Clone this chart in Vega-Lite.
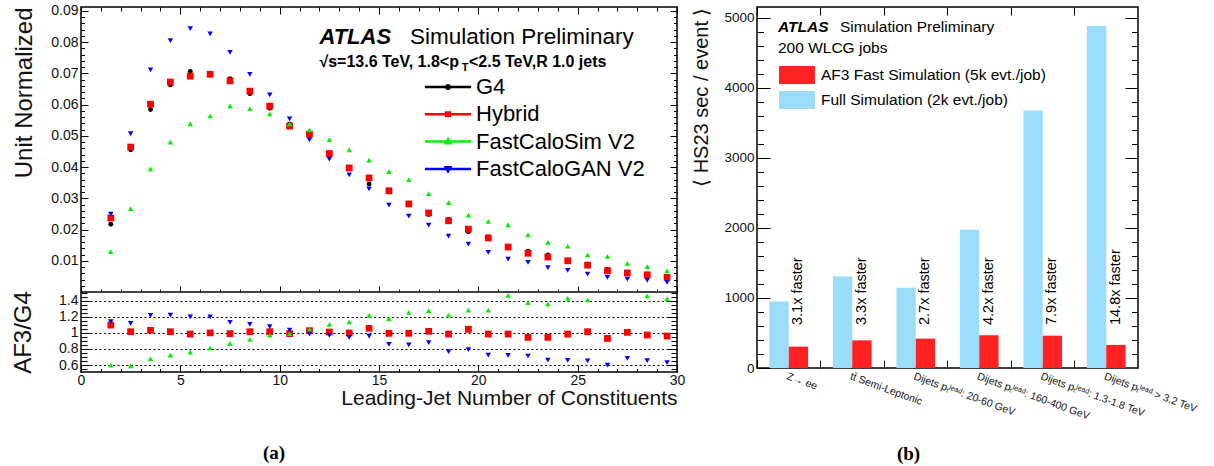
{
"$schema": "https://vega.github.io/schema/vega-lite/v6.json",
"background": "white",
"padding": {"left": 10, "top": 3, "right": 2, "bottom": 2},
"spacing": 5,
"resolve": {"scale": {"color": "independent", "shape": "independent", "size": "independent", "fill": "independent", "stroke": "independent"}},
"config": {
  "font": "Liberation Sans",
  "view": {"stroke": "black", "strokeWidth": 1.5},
  "axis": {"domain": false, "grid": false, "tickColor": "black", "tickWidth": 1, "labelColor": "#111", "titleColor": "#111", "labelFont": "Liberation Sans", "titleFont": "Liberation Sans", "titleFontWeight": "normal", "labelFlush": false, "labelOverlap": false},
  "legend": {"labelFont": "Liberation Sans"}
},
"datasets": {
  "main": [
    {"n":1.5,"s":"G4","v":0.0217},{"n":2.5,"s":"G4","v":0.0455},{"n":3.5,"s":"G4","v":0.0584},{"n":4.5,"s":"G4","v":0.0663},{"n":5.5,"s":"G4","v":0.0706},{"n":6.5,"s":"G4","v":0.0697},{"n":7.5,"s":"G4","v":0.0683},{"n":8.5,"s":"G4","v":0.0635},{"n":9.5,"s":"G4","v":0.0588},{"n":10.5,"s":"G4","v":0.0538},{"n":11.5,"s":"G4","v":0.0500},{"n":12.5,"s":"G4","v":0.0440},{"n":13.5,"s":"G4","v":0.0399},{"n":14.5,"s":"G4","v":0.0346},{"n":15.5,"s":"G4","v":0.0326},{"n":16.5,"s":"G4","v":0.0284},{"n":17.5,"s":"G4","v":0.0248},{"n":18.5,"s":"G4","v":0.0232},{"n":19.5,"s":"G4","v":0.0193},{"n":20.5,"s":"G4","v":0.0176},{"n":21.5,"s":"G4","v":0.0146},{"n":22.5,"s":"G4","v":0.0131},{"n":23.5,"s":"G4","v":0.0119},{"n":24.5,"s":"G4","v":0.0102},{"n":25.5,"s":"G4","v":0.0085},{"n":26.5,"s":"G4","v":0.0073},{"n":27.5,"s":"G4","v":0.0061},{"n":28.5,"s":"G4","v":0.0057},{"n":29.5,"s":"G4","v":0.0049},
    {"n":1.5,"s":"Hybrid","v":0.0237},{"n":2.5,"s":"Hybrid","v":0.0464},{"n":3.5,"s":"Hybrid","v":0.0601},{"n":4.5,"s":"Hybrid","v":0.0672},{"n":5.5,"s":"Hybrid","v":0.0691},{"n":6.5,"s":"Hybrid","v":0.0697},{"n":7.5,"s":"Hybrid","v":0.0676},{"n":8.5,"s":"Hybrid","v":0.0643},{"n":9.5,"s":"Hybrid","v":0.0595},{"n":10.5,"s":"Hybrid","v":0.0531},{"n":11.5,"s":"Hybrid","v":0.0505},{"n":12.5,"s":"Hybrid","v":0.0443},{"n":13.5,"s":"Hybrid","v":0.0397},{"n":14.5,"s":"Hybrid","v":0.0365},{"n":15.5,"s":"Hybrid","v":0.0324},{"n":16.5,"s":"Hybrid","v":0.0282},{"n":17.5,"s":"Hybrid","v":0.0253},{"n":18.5,"s":"Hybrid","v":0.0228},{"n":19.5,"s":"Hybrid","v":0.0201},{"n":20.5,"s":"Hybrid","v":0.0173},{"n":21.5,"s":"Hybrid","v":0.0144},{"n":22.5,"s":"Hybrid","v":0.0124},{"n":23.5,"s":"Hybrid","v":0.0112},{"n":24.5,"s":"Hybrid","v":0.0100},{"n":25.5,"s":"Hybrid","v":0.0086},{"n":26.5,"s":"Hybrid","v":0.0068},{"n":27.5,"s":"Hybrid","v":0.0061},{"n":28.5,"s":"Hybrid","v":0.0055},{"n":29.5,"s":"Hybrid","v":0.0047},
    {"n":1.5,"s":"FastCaloSim V2","v":0.0129},{"n":2.5,"s":"FastCaloSim V2","v":0.0267},{"n":3.5,"s":"FastCaloSim V2","v":0.0394},{"n":4.5,"s":"FastCaloSim V2","v":0.0480},{"n":5.5,"s":"FastCaloSim V2","v":0.0538},{"n":6.5,"s":"FastCaloSim V2","v":0.0564},{"n":7.5,"s":"FastCaloSim V2","v":0.0596},{"n":8.5,"s":"FastCaloSim V2","v":0.0587},{"n":9.5,"s":"FastCaloSim V2","v":0.0570},{"n":10.5,"s":"FastCaloSim V2","v":0.0538},{"n":11.5,"s":"FastCaloSim V2","v":0.0519},{"n":12.5,"s":"FastCaloSim V2","v":0.0488},{"n":13.5,"s":"FastCaloSim V2","v":0.0455},{"n":14.5,"s":"FastCaloSim V2","v":0.0422},{"n":15.5,"s":"FastCaloSim V2","v":0.0385},{"n":16.5,"s":"FastCaloSim V2","v":0.0360},{"n":17.5,"s":"FastCaloSim V2","v":0.0315},{"n":18.5,"s":"FastCaloSim V2","v":0.0286},{"n":19.5,"s":"FastCaloSim V2","v":0.0246},{"n":20.5,"s":"FastCaloSim V2","v":0.0226},{"n":21.5,"s":"FastCaloSim V2","v":0.0215},{"n":22.5,"s":"FastCaloSim V2","v":0.0183},{"n":23.5,"s":"FastCaloSim V2","v":0.0159},{"n":24.5,"s":"FastCaloSim V2","v":0.0147},{"n":25.5,"s":"FastCaloSim V2","v":0.0119},{"n":26.5,"s":"FastCaloSim V2","v":0.0114},{"n":27.5,"s":"FastCaloSim V2","v":0.0092},{"n":28.5,"s":"FastCaloSim V2","v":0.0081},{"n":29.5,"s":"FastCaloSim V2","v":0.0068},
    {"n":1.5,"s":"FastCaloGAN V2","v":0.0249},{"n":2.5,"s":"FastCaloGAN V2","v":0.0507},{"n":3.5,"s":"FastCaloGAN V2","v":0.0711},{"n":4.5,"s":"FastCaloGAN V2","v":0.0805},{"n":5.5,"s":"FastCaloGAN V2","v":0.0843},{"n":6.5,"s":"FastCaloGAN V2","v":0.0826},{"n":7.5,"s":"FastCaloGAN V2","v":0.0767},{"n":8.5,"s":"FastCaloGAN V2","v":0.0697},{"n":9.5,"s":"FastCaloGAN V2","v":0.0631},{"n":10.5,"s":"FastCaloGAN V2","v":0.0554},{"n":11.5,"s":"FastCaloGAN V2","v":0.0487},{"n":12.5,"s":"FastCaloGAN V2","v":0.0425},{"n":13.5,"s":"FastCaloGAN V2","v":0.0375},{"n":14.5,"s":"FastCaloGAN V2","v":0.0330},{"n":15.5,"s":"FastCaloGAN V2","v":0.0278},{"n":16.5,"s":"FastCaloGAN V2","v":0.0243},{"n":17.5,"s":"FastCaloGAN V2","v":0.0214},{"n":18.5,"s":"FastCaloGAN V2","v":0.0179},{"n":19.5,"s":"FastCaloGAN V2","v":0.0153},{"n":20.5,"s":"FastCaloGAN V2","v":0.0127},{"n":21.5,"s":"FastCaloGAN V2","v":0.0105},{"n":22.5,"s":"FastCaloGAN V2","v":0.0095},{"n":23.5,"s":"FastCaloGAN V2","v":0.0078},{"n":24.5,"s":"FastCaloGAN V2","v":0.0069},{"n":25.5,"s":"FastCaloGAN V2","v":0.0057},{"n":26.5,"s":"FastCaloGAN V2","v":0.0047},{"n":27.5,"s":"FastCaloGAN V2","v":0.0041},{"n":28.5,"s":"FastCaloGAN V2","v":0.0037},{"n":29.5,"s":"FastCaloGAN V2","v":0.0031}
  ],
  "ratio": [
    {"n":1.5,"s":"Hybrid","r":1.097},{"n":2.5,"s":"Hybrid","r":1.014},{"n":3.5,"s":"Hybrid","r":1.031},{"n":4.5,"s":"Hybrid","r":1.014},{"n":5.5,"s":"Hybrid","r":0.985},{"n":6.5,"s":"Hybrid","r":1.0},{"n":7.5,"s":"Hybrid","r":0.99},{"n":8.5,"s":"Hybrid","r":1.014},{"n":9.5,"s":"Hybrid","r":1.014},{"n":10.5,"s":"Hybrid","r":0.99},{"n":11.5,"s":"Hybrid","r":1.027},{"n":12.5,"s":"Hybrid","r":1.01},{"n":13.5,"s":"Hybrid","r":0.998},{"n":14.5,"s":"Hybrid","r":1.056},{"n":15.5,"s":"Hybrid","r":0.994},{"n":16.5,"s":"Hybrid","r":0.994},{"n":17.5,"s":"Hybrid","r":1.019},{"n":18.5,"s":"Hybrid","r":0.985},{"n":19.5,"s":"Hybrid","r":1.044},{"n":20.5,"s":"Hybrid","r":0.985},{"n":21.5,"s":"Hybrid","r":0.985},{"n":22.5,"s":"Hybrid","r":0.944},{"n":23.5,"s":"Hybrid","r":0.944},{"n":24.5,"s":"Hybrid","r":0.985},{"n":25.5,"s":"Hybrid","r":1.014},{"n":26.5,"s":"Hybrid","r":0.93},{"n":27.5,"s":"Hybrid","r":1.006},{"n":28.5,"s":"Hybrid","r":0.973},{"n":29.5,"s":"Hybrid","r":0.96},
    {"n":1.5,"s":"FastCaloSim V2","r":0.60},{"n":2.5,"s":"FastCaloSim V2","r":0.59},{"n":3.5,"s":"FastCaloSim V2","r":0.675},{"n":4.5,"s":"FastCaloSim V2","r":0.724},{"n":5.5,"s":"FastCaloSim V2","r":0.76},{"n":6.5,"s":"FastCaloSim V2","r":0.81},{"n":7.5,"s":"FastCaloSim V2","r":0.87},{"n":8.5,"s":"FastCaloSim V2","r":0.92},{"n":9.5,"s":"FastCaloSim V2","r":0.973},{"n":10.5,"s":"FastCaloSim V2","r":0.99},{"n":11.5,"s":"FastCaloSim V2","r":1.044},{"n":12.5,"s":"FastCaloSim V2","r":1.106},{"n":13.5,"s":"FastCaloSim V2","r":1.135},{"n":14.5,"s":"FastCaloSim V2","r":1.218},{"n":15.5,"s":"FastCaloSim V2","r":1.176},{"n":16.5,"s":"FastCaloSim V2","r":1.255},{"n":17.5,"s":"FastCaloSim V2","r":1.276},{"n":18.5,"s":"FastCaloSim V2","r":1.22},{"n":19.5,"s":"FastCaloSim V2","r":1.284},{"n":20.5,"s":"FastCaloSim V2","r":1.284},{"n":21.5,"s":"FastCaloSim V2","r":1.466},{"n":22.5,"s":"FastCaloSim V2","r":1.375},{"n":23.5,"s":"FastCaloSim V2","r":1.36},{"n":24.5,"s":"FastCaloSim V2","r":1.43},{"n":25.5,"s":"FastCaloSim V2","r":1.41},{"n":26.5,"s":"FastCaloSim V2","r":1.56},{"n":27.5,"s":"FastCaloSim V2","r":1.55},{"n":28.5,"s":"FastCaloSim V2","r":1.46},{"n":29.5,"s":"FastCaloSim V2","r":1.425},
    {"n":1.5,"s":"FastCaloGAN V2","r":1.139},{"n":2.5,"s":"FastCaloGAN V2","r":1.118},{"n":3.5,"s":"FastCaloGAN V2","r":1.218},{"n":4.5,"s":"FastCaloGAN V2","r":1.22},{"n":5.5,"s":"FastCaloGAN V2","r":1.2},{"n":6.5,"s":"FastCaloGAN V2","r":1.2},{"n":7.5,"s":"FastCaloGAN V2","r":1.13},{"n":8.5,"s":"FastCaloGAN V2","r":1.105},{"n":9.5,"s":"FastCaloGAN V2","r":1.077},{"n":10.5,"s":"FastCaloGAN V2","r":1.035},{"n":11.5,"s":"FastCaloGAN V2","r":0.985},{"n":12.5,"s":"FastCaloGAN V2","r":0.97},{"n":13.5,"s":"FastCaloGAN V2","r":0.944},{"n":14.5,"s":"FastCaloGAN V2","r":0.96},{"n":15.5,"s":"FastCaloGAN V2","r":0.856},{"n":16.5,"s":"FastCaloGAN V2","r":0.85},{"n":17.5,"s":"FastCaloGAN V2","r":0.878},{"n":18.5,"s":"FastCaloGAN V2","r":0.766},{"n":19.5,"s":"FastCaloGAN V2","r":0.79},{"n":20.5,"s":"FastCaloGAN V2","r":0.724},{"n":21.5,"s":"FastCaloGAN V2","r":0.72},{"n":22.5,"s":"FastCaloGAN V2","r":0.712},{"n":23.5,"s":"FastCaloGAN V2","r":0.662},{"n":24.5,"s":"FastCaloGAN V2","r":0.658},{"n":25.5,"s":"FastCaloGAN V2","r":0.65},{"n":26.5,"s":"FastCaloGAN V2","r":0.6},{"n":27.5,"s":"FastCaloGAN V2","r":0.683},{"n":28.5,"s":"FastCaloGAN V2","r":0.654},{"n":29.5,"s":"FastCaloGAN V2","r":0.63}
  ],
  "bars": [
    {"process":"Z\u2192 ee","sim":"Full Simulation (2k evt./job)","sec":950},
    {"process":"Z\u2192 ee","sim":"AF3 Fast Simulation (5k evt./job)","sec":305,"speedup":"3.1x faster"},
    {"process":"tt\u0304 Semi-Leptonic","sim":"Full Simulation (2k evt./job)","sec":1306},
    {"process":"tt\u0304 Semi-Leptonic","sim":"AF3 Fast Simulation (5k evt./job)","sec":395,"speedup":"3.3x faster"},
    {"process":"Dijets p\u209c\u02e1\u1d49\u1d43\u1d48: 20-60 GeV","sim":"Full Simulation (2k evt./job)","sec":1145},
    {"process":"Dijets p\u209c\u02e1\u1d49\u1d43\u1d48: 20-60 GeV","sim":"AF3 Fast Simulation (5k evt./job)","sec":420,"speedup":"2.7x faster"},
    {"process":"Dijets p\u209c\u02e1\u1d49\u1d43\u1d48: 160-400 GeV","sim":"Full Simulation (2k evt./job)","sec":1975},
    {"process":"Dijets p\u209c\u02e1\u1d49\u1d43\u1d48: 160-400 GeV","sim":"AF3 Fast Simulation (5k evt./job)","sec":468,"speedup":"4.2x faster"},
    {"process":"Dijets p\u209c\u02e1\u1d49\u1d43\u1d48: 1.3-1.8 TeV","sim":"Full Simulation (2k evt./job)","sec":3680},
    {"process":"Dijets p\u209c\u02e1\u1d49\u1d43\u1d48: 1.3-1.8 TeV","sim":"AF3 Fast Simulation (5k evt./job)","sec":462,"speedup":"7.9x faster"},
    {"process":"Dijets p\u209c\u02e1\u1d49\u1d43\u1d48 > 3.2 TeV","sim":"Full Simulation (2k evt./job)","sec":4885},
    {"process":"Dijets p\u209c\u02e1\u1d49\u1d43\u1d48 > 3.2 TeV","sim":"AF3 Fast Simulation (5k evt./job)","sec":330,"speedup":"14.8x faster"}
  ]
},
"hconcat": [
  {
    "width": 596, "height": 365,
    "title": {"text": "(a)", "orient": "bottom", "anchor": "middle", "font": "Liberation Serif", "fontSize": 19, "fontWeight": "bold", "color": "black", "offset": 36, "dx": -105},
    "layer": [
      {
        "data": {"name": "main"},
        "transform": [{"filter": "datum.s === 'G4'"}],
        "mark": {"type": "point", "filled": true, "opacity": 1, "shape": "circle", "size": 24, "color": "#000000"},
        "encoding": {
          "x": {"field": "n", "type": "quantitative", "scale": {"domain": [0, 30], "nice": false, "zero": false},
                "axis": {"orient": "bottom", "values": [0,5,10,15,20,25,30], "tickSize": -7, "labelPadding": 8, "labelFontSize": 14, "title": "Leading-Jet Number of Constituents", "titleFontSize": 21, "titleAnchor": "end", "titlePadding": 0}},
          "y": {"field": "v", "type": "quantitative", "scale": {"domain": [0, 0.09124], "range": [285, 0], "nice": false, "zero": false},
                "axis": {"orient": "left", "values": [0.01,0.02,0.03,0.04,0.05,0.06,0.07,0.08,0.09], "format": ".2f", "tickSize": -7, "labelPadding": 10, "labelFontSize": 14, "title": "Unit Normalized", "titleFontSize": 24, "titleAnchor": "end", "titlePadding": 14}}
        }
      },
      {
        "data": {"name": "main"},
        "transform": [{"filter": "datum.s === 'Hybrid'"}],
        "mark": {"type": "point", "filled": true, "opacity": 1, "shape": "square", "size": 46, "color": "#ff0000"},
        "encoding": {
          "x": {"field": "n", "type": "quantitative", "axis": {"orient": "bottom", "values": [1,2,3,4,6,7,8,9,11,12,13,14,16,17,18,19,21,22,23,24,26,27,28,29], "labels": false, "tickSize": -3.5, "title": null}},
          "y": {"field": "v", "type": "quantitative", "scale": {"domain": [0, 0.09124], "range": [285, 0], "nice": false, "zero": false},
                "axis": {"orient": "left", "values": [0.002,0.004,0.006,0.008,0.012,0.014,0.016,0.018,0.022,0.024,0.026,0.028,0.032,0.034,0.036,0.038,0.042,0.044,0.046,0.048,0.052,0.054,0.056,0.058,0.062,0.064,0.066,0.068,0.072,0.074,0.076,0.078,0.082,0.084,0.086,0.088,0.090], "labels": false, "tickSize": -3.5, "title": null}}
        }
      },
      {
        "data": {"name": "main"},
        "transform": [{"filter": "datum.s === 'FastCaloSim V2'"}],
        "mark": {"type": "point", "filled": true, "opacity": 1, "shape": "triangle-up", "size": 30, "color": "#00f000"},
        "encoding": {
          "x": {"field": "n", "type": "quantitative", "axis": {"orient": "top", "values": [0,5,10,15,20,25,30], "labels": false, "tickSize": -7, "title": null}},
          "y": {"field": "v", "type": "quantitative", "scale": {"domain": [0, 0.09124], "range": [285, 0], "nice": false, "zero": false},
                "axis": {"orient": "right", "values": [0.01,0.02,0.03,0.04,0.05,0.06,0.07,0.08,0.09], "labels": false, "tickSize": -7, "title": null}}
        }
      },
      {
        "data": {"name": "main"},
        "transform": [{"filter": "datum.s === 'FastCaloGAN V2'"}],
        "mark": {"type": "point", "filled": true, "opacity": 1, "shape": "triangle-down", "size": 30, "color": "#0000ff"},
        "encoding": {
          "x": {"field": "n", "type": "quantitative", "axis": {"orient": "top", "values": [1,2,3,4,6,7,8,9,11,12,13,14,16,17,18,19,21,22,23,24,26,27,28,29], "labels": false, "tickSize": -4, "title": null}},
          "y": {"field": "v", "type": "quantitative", "scale": {"domain": [0, 0.09124], "range": [285, 0], "nice": false, "zero": false},
                "axis": {"orient": "right", "values": [0.002,0.004,0.006,0.008,0.012,0.014,0.016,0.018,0.022,0.024,0.026,0.028,0.032,0.034,0.036,0.038,0.042,0.044,0.046,0.048,0.052,0.054,0.056,0.058,0.062,0.064,0.066,0.068,0.072,0.074,0.076,0.078,0.082,0.084,0.086,0.088,0.090], "labels": false, "tickSize": -3.5, "title": null}}
        }
      },
      {
        "data": {"name": "ratio"},
        "transform": [{"filter": "datum.s === 'Hybrid'"}],
        "mark": {"type": "point", "filled": true, "opacity": 1, "shape": "square", "size": 46, "color": "#ff0000"},
        "encoding": {
          "x": {"field": "n", "type": "quantitative", "axis": {"orient": "bottom", "offset": -80, "values": [0,5,10,15,20,25,30], "labels": false, "tickSize": -6, "title": null}},
          "y": {"field": "r", "type": "quantitative", "scale": {"domain": [0.513, 1.508], "range": [365, 285], "nice": false, "zero": false},
                "axis": {"orient": "left", "values": [0.6,0.8,1,1.2,1.4], "format": "~g", "tickSize": -10, "labelPadding": 13, "labelFontSize": 14, "grid": true, "gridColor": "black", "gridDash": [2,2.5], "gridWidth": 1, "title": "AF3/G4", "titleFontSize": 24, "titlePadding": 23}}
        }
      },
      {
        "data": {"name": "ratio"},
        "transform": [{"filter": "datum.s === 'FastCaloSim V2' && datum.r < 1.508"}],
        "mark": {"type": "point", "filled": true, "opacity": 1, "shape": "triangle-up", "size": 30, "color": "#00f000"},
        "encoding": {
          "x": {"field": "n", "type": "quantitative", "axis": {"orient": "bottom", "offset": -80, "values": [1,2,3,4,6,7,8,9,11,12,13,14,16,17,18,19,21,22,23,24,26,27,28,29], "labels": false, "tickSize": -3, "title": null}},
          "y": {"field": "r", "type": "quantitative", "scale": {"domain": [0.513, 1.508], "range": [365, 285], "nice": false, "zero": false},
                "axis": {"orient": "left", "values": [0.55,0.65,0.7,0.75,0.85,0.9,0.95,1.05,1.1,1.15,1.25,1.3,1.35,1.45,1.5], "labels": false, "tickSize": -6, "title": null}}
        }
      },
      {
        "data": {"name": "ratio"},
        "transform": [{"filter": "datum.s === 'FastCaloGAN V2'"}],
        "mark": {"type": "point", "filled": true, "opacity": 1, "shape": "triangle-down", "size": 30, "color": "#0000ff"},
        "encoding": {
          "x": {"field": "n", "type": "quantitative", "axis": null},
          "y": {"field": "r", "type": "quantitative", "scale": {"domain": [0.513, 1.508], "range": [365, 285], "nice": false, "zero": false},
                "axis": {"orient": "right", "values": [0.6,0.8,1,1.2,1.4], "labels": false, "tickSize": -10, "title": null}}
        }
      },
      {
        "data": {"name": "ratio"},
        "mark": {"type": "point", "size": 0},
        "encoding": {
          "x": {"field": "n", "type": "quantitative", "axis": null},
          "y": {"field": "r", "type": "quantitative", "scale": {"domain": [0.513, 1.508], "range": [365, 285], "nice": false, "zero": false},
                "axis": {"orient": "right", "values": [0.55,0.65,0.7,0.75,0.85,0.9,0.95,1.05,1.1,1.15,1.25,1.3,1.35,1.45,1.5], "labels": false, "tickSize": -6, "title": null}}
        }
      },
      {
        "data": {"name": "main"},
        "mark": {"type": "point", "filled": false, "size": 0, "opacity": 1, "strokeWidth": 2.5},
        "encoding": {
          "x": {"field": "n", "type": "quantitative", "axis": null},
          "y": {"field": "v", "type": "quantitative", "scale": {"domain": [0, 0.09124], "range": [285, 0], "nice": false, "zero": false}, "axis": null},
          "color": {"field": "s", "type": "nominal", "scale": {"domain": ["G4","Hybrid","FastCaloSim V2","FastCaloGAN V2"], "range": ["#000000","#ff0000","#00f000","#0000ff"]},
                    "legend": {"orient": "none", "legendX": 356, "legendY": 69, "title": null, "labelFontSize": 22, "labelColor": "black", "labelLimit": 400, "symbolSize": 36, "symbolStrokeWidth": 2.5, "symbolOpacity": 1, "labelOffset": 17, "rowPadding": 5.3, "padding": 0}},
          "shape": {"field": "s", "type": "nominal", "scale": {"domain": ["G4","Hybrid","FastCaloSim V2","FastCaloGAN V2"], "range": ["M-7.7,0H7.7M0.55,0A0.55,0.55,0,1,1,-0.55,0A0.55,0.55,0,1,1,0.55,0Z","M-7.7,0H7.7M-0.6,-0.6H0.6V0.6H-0.6Z","M-7.7,0H7.7M0,-0.8L0.75,0.55H-0.75Z","M-7.7,0H7.7M0,0.8L0.75,-0.55H-0.75Z"]},
                    "legend": {"orient": "none", "legendX": 356, "legendY": 69, "title": null, "labelFontSize": 22, "labelColor": "black", "labelLimit": 400, "symbolSize": 36, "symbolStrokeWidth": 2.5, "symbolOpacity": 1, "labelOffset": 17, "rowPadding": 5.3, "padding": 0}}
        }
      },
      {
        "data": {"values": [{}]},
        "mark": {"type": "rule", "color": "black", "strokeWidth": 1.5},
        "encoding": {"y": {"datum": 0, "type": "quantitative", "scale": {"domain": [0, 0.09124], "range": [285, 0], "nice": false, "zero": false}, "axis": null}}
      },
      {
        "data": {"values": [{}]},
        "mark": {"type": "text", "text": "ATLAS", "fontStyle": "italic", "fontWeight": "bold", "fontSize": 22, "align": "left", "baseline": "alphabetic", "color": "black"},
        "encoding": {"x": {"datum": 12, "type": "quantitative", "axis": null}, "y": {"datum": 0.0793, "type": "quantitative", "scale": {"domain": [0, 0.09124], "range": [285, 0], "nice": false, "zero": false}, "axis": null}}
      },
      {
        "data": {"values": [{}]},
        "mark": {"type": "text", "text": "Simulation Preliminary", "fontSize": 22.5, "align": "left", "baseline": "alphabetic", "color": "black"},
        "encoding": {"x": {"datum": 16.56, "type": "quantitative", "axis": null}, "y": {"datum": 0.0793, "type": "quantitative", "scale": {"domain": [0, 0.09124], "range": [285, 0], "nice": false, "zero": false}, "axis": null}}
      },
      {
        "data": {"values": [{}]},
        "mark": {"type": "text", "text": "\u221as=13.6 TeV, 1.8<p", "fontWeight": "bold", "fontSize": 16, "align": "left", "baseline": "alphabetic", "color": "black"},
        "encoding": {"x": {"datum": 12, "type": "quantitative", "axis": null}, "y": {"datum": 0.0719, "type": "quantitative", "scale": {"domain": [0, 0.09124], "range": [285, 0], "nice": false, "zero": false}, "axis": null}}
      },
      {
        "data": {"values": [{}]},
        "mark": {"type": "text", "text": "T", "fontWeight": "bold", "fontSize": 11, "align": "left", "baseline": "alphabetic", "color": "black"},
        "encoding": {"x": {"datum": 19.17, "type": "quantitative", "axis": null}, "y": {"datum": 0.0706, "type": "quantitative", "scale": {"domain": [0, 0.09124], "range": [285, 0], "nice": false, "zero": false}, "axis": null}}
      },
      {
        "data": {"values": [{}]},
        "mark": {"type": "text", "text": "<2.5 TeV,R 1.0 jets", "fontWeight": "bold", "fontSize": 16, "align": "left", "baseline": "alphabetic", "color": "black"},
        "encoding": {"x": {"datum": 19.53, "type": "quantitative", "axis": null}, "y": {"datum": 0.0719, "type": "quantitative", "scale": {"domain": [0, 0.09124], "range": [285, 0], "nice": false, "zero": false}, "axis": null}}
      }
    ],
    "resolve": {"scale": {"y": "independent", "color": "independent", "shape": "independent"}, "axis": {"x": "independent", "y": "independent"}}
  },
  {
    "width": 381, "height": 361,
    "data": {"name": "bars"},
    "title": {"text": "(b)", "orient": "bottom", "anchor": "middle", "font": "Liberation Serif", "fontSize": 19, "fontWeight": "bold", "color": "black", "offset": 24, "dx": -39},
    "layer": [
      {
        "mark": {"type": "bar"},
        "encoding": {
          "x": {"field": "process", "type": "nominal", "sort": null, "scale": {"paddingInner": 0, "paddingOuter": 0},
                "axis": {"orient": "bottom", "ticks": false, "labelAngle": 20, "labelAlign": "left", "labelBaseline": "top", "labelFontSize": 10.5, "labelPadding": 3, "labelLimit": 300, "title": null}},
          "xOffset": {"field": "sim", "type": "nominal", "sort": ["Full Simulation (2k evt./job)", "AF3 Fast Simulation (5k evt./job)"], "scale": {"paddingInner": 0, "paddingOuter": 0.64}},
          "y": {"field": "sec", "type": "quantitative", "scale": {"domain": [0, 5157], "nice": false, "zero": true},
                "axis": {"orient": "left", "values": [0,1000,2000,3000,4000,5000], "format": "d", "tickSize": -13, "labelPadding": 16, "labelFontSize": 13.5, "title": "\u27e8 HS23 sec / event \u27e9", "titleFontSize": 20, "titleAnchor": "end", "titlePadding": 12}},
          "color": {"field": "sim", "type": "nominal", "scale": {"domain": ["AF3 Fast Simulation (5k evt./job)", "Full Simulation (2k evt./job)"], "range": ["#ff2222", "#9bdcfa"]},
                    "legend": {"orient": "none", "legendX": 31, "legendY": 59, "title": null, "labelFontSize": 15.5, "labelColor": "black", "labelLimit": 400, "symbolType": "M-2,-1H2V1H-2Z", "symbolSize": 324, "symbolStrokeWidth": 0, "labelOffset": 15, "rowPadding": 7, "padding": 0}}
        }
      },
      {
        "transform": [{"filter": "datum.speedup"}],
        "mark": {"type": "text", "angle": 270, "align": "left", "baseline": "middle", "fontSize": 14.5, "color": "black"},
        "encoding": {
          "x": {"field": "process", "type": "nominal", "sort": null, "axis": null},
          "xOffset": {"field": "sim", "type": "nominal", "sort": ["Full Simulation (2k evt./job)", "AF3 Fast Simulation (5k evt./job)"]},
          "y": {"datum": 614, "type": "quantitative", "axis": null},
          "text": {"field": "speedup"}
        }
      },
      {
        "mark": {"type": "point", "size": 0},
        "encoding": {
          "x": {"field": "process", "type": "nominal", "sort": null, "axis": {"orient": "bottom", "bandPosition": 0, "labels": false, "tickSize": -8, "title": null}},
          "y": {"field": "sec", "type": "quantitative", "axis": {"orient": "left", "values": [200,400,600,800,1200,1400,1600,1800,2200,2400,2600,2800,3200,3400,3600,3800,4200,4400,4600,4800], "labels": false, "tickSize": -6.5, "title": null}}
        }
      },
      {
        "mark": {"type": "point", "size": 0},
        "encoding": {
          "x": {"field": "process", "type": "nominal", "sort": null, "axis": {"orient": "top", "bandPosition": 0, "labels": false, "tickSize": -8, "title": null}},
          "y": {"field": "sec", "type": "quantitative", "axis": {"orient": "right", "values": [1000,2000,3000,4000,5000], "labels": false, "tickSize": -13, "title": null}}
        }
      },
      {
        "mark": {"type": "point", "size": 0},
        "encoding": {
          "x": {"field": "process", "type": "nominal", "sort": null, "axis": null},
          "y": {"field": "sec", "type": "quantitative", "axis": {"orient": "right", "values": [200,400,600,800,1200,1400,1600,1800,2200,2400,2600,2800,3200,3400,3600,3800,4200,4400,4600,4800], "labels": false, "tickSize": -6.5, "title": null}}
        }
      },
      {
        "data": {"values": [{}]},
        "mark": {"type": "text", "text": "ATLAS", "fontStyle": "italic", "fontWeight": "bold", "fontSize": 15.5, "align": "left", "baseline": "alphabetic", "color": "black", "dx": -10.75},
        "encoding": {"x": {"datum": "Z\u2192 ee", "type": "nominal", "axis": null}, "y": {"datum": 4796, "type": "quantitative", "axis": null}}
      },
      {
        "data": {"values": [{}]},
        "mark": {"type": "text", "text": "Simulation Preliminary", "fontSize": 15.5, "align": "left", "baseline": "alphabetic", "color": "black", "dx": 51.25},
        "encoding": {"x": {"datum": "Z\u2192 ee", "type": "nominal", "axis": null}, "y": {"datum": 4796, "type": "quantitative", "axis": null}}
      },
      {
        "data": {"values": [{}]},
        "mark": {"type": "text", "text": "200 WLCG jobs", "fontSize": 15.5, "align": "left", "baseline": "alphabetic", "color": "black", "dx": -10.75},
        "encoding": {"x": {"datum": "Z\u2192 ee", "type": "nominal", "axis": null}, "y": {"datum": 4496, "type": "quantitative", "axis": null}}
      }
    ],
    "resolve": {"axis": {"x": "independent", "y": "independent"}}
  }
]
}
